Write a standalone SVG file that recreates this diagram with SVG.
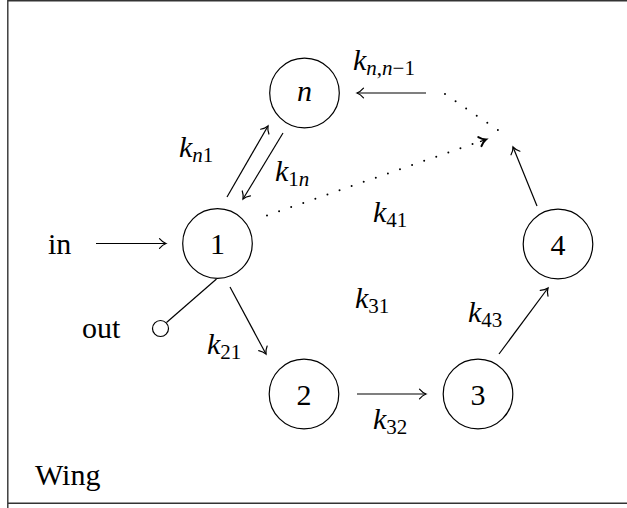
<svg xmlns="http://www.w3.org/2000/svg" width="627" height="508" viewBox="0 0 627 508">
  <style>
    .node circle { fill: none; stroke: #000; stroke-width: 1.2; }
    .it { font-style: italic; }
    .sub { font-size: 21px; font-style: normal; }
    .edge { stroke: #000; stroke-width: 1.2; fill: none; }
    .dots { stroke: #000; stroke-width: 2; fill: none; stroke-linecap: round; stroke-dasharray: 0 12.8; }
    .frame { stroke: #333; stroke-width: 1.4; fill: none; }
  </style>
  <defs>
    <!-- thin curved "to"-style arrow tip -->
    <marker id="to" markerUnits="userSpaceOnUse" orient="auto" refX="0" refY="0" markerWidth="14" markerHeight="14" viewBox="-8 -7 10 14" overflow="visible">
      <path d="M-6.5,-4.8 C-4.2,-2.1 -1.6,-0.6 0,0 C-1.6,0.6 -4.2,2.1 -6.5,4.8" fill="none" stroke="#000" stroke-width="1.2" stroke-linecap="round"/>
    </marker>
    <marker id="toBold" markerUnits="userSpaceOnUse" orient="auto" refX="0" refY="0" markerWidth="14" markerHeight="14" viewBox="-8 -7 10 14" overflow="visible">
      <path d="M-6.5,-4.8 C-4.2,-2.1 -1.6,-0.6 0,0 C-1.6,0.6 -4.2,2.1 -6.5,4.8" fill="none" stroke="#000" stroke-width="2" stroke-linecap="round"/>
    </marker>
  </defs>

  <!-- frame -->
  <path class="frame" d="M7.8,508 V0.8 H627 M7.8,503.3 H627"/>

  <!-- connectors -->
  <g id="connectors">
    <line class="edge" x1="96" y1="243.5" x2="166" y2="243.5" marker-end="url(#to)"/>
    <line class="edge" x1="216.5" y1="279" x2="166.5" y2="322.5"/>
    <circle class="edge" cx="160.5" cy="328.5" r="8"/>
    <line class="edge" x1="230" y1="287" x2="266" y2="354" marker-end="url(#to)"/>
    <line class="edge" x1="227" y1="197" x2="268" y2="126" marker-end="url(#to)"/>
    <line class="edge" x1="283" y1="133" x2="243" y2="199" marker-end="url(#to)"/>
    <line class="edge" x1="426" y1="93" x2="357" y2="93" marker-end="url(#to)"/>
    <line class="dots" x1="445" y1="94" x2="500" y2="131.5"/>
    <line class="dots" x1="267" y1="215.5" x2="474" y2="143.5"/>
    <line class="edge" x1="480" y1="141.6" x2="486" y2="139.5" stroke-width="0" marker-end="url(#toBold)"/>
    <line class="edge" x1="537" y1="206" x2="513" y2="147" marker-end="url(#to)"/>
    <line class="edge" x1="357" y1="394" x2="426" y2="394" marker-end="url(#to)"/>
    <line class="edge" x1="499" y1="354" x2="548" y2="288" marker-end="url(#to)"/>
  </g>

  <g font-family="Liberation Serif, Times New Roman, serif" font-size="30" fill="#000">
  <!-- nodes -->
  <g id="node-n" class="node">
    <circle cx="304.5" cy="93" r="34.8"/>
    <text class="it" x="304.5" y="101" text-anchor="middle">n</text>
  </g>
  <g id="node-1" class="node">
    <circle cx="217.5" cy="243.5" r="34.8"/>
    <text x="217.5" y="254" text-anchor="middle">1</text>
  </g>
  <g id="node-2" class="node">
    <circle cx="304" cy="394" r="34.8"/>
    <text x="304" y="404.5" text-anchor="middle">2</text>
  </g>
  <g id="node-3" class="node">
    <circle cx="478" cy="394" r="34.8"/>
    <text x="478" y="404.5" text-anchor="middle">3</text>
  </g>
  <g id="node-4" class="node">
    <circle cx="558" cy="244" r="34.8"/>
    <text x="558" y="254.5" text-anchor="middle">4</text>
  </g>

  <!-- labels -->
  <g id="labels">
    <text x="48" y="254">in</text>
    <text x="82" y="338">out</text>
    <text class="it" x="179" y="157">k<tspan class="sub" dy="5"><tspan class="it">n</tspan>1</tspan></text>
    <text class="it" x="275" y="181">k<tspan class="sub" dy="5">1<tspan class="it">n</tspan></tspan></text>
    <text class="it" x="353" y="70">k<tspan class="sub" dy="5"><tspan class="it">n</tspan>,<tspan class="it">n</tspan>−1</tspan></text>
    <text class="it" x="373" y="222">k<tspan class="sub" dy="5">41</tspan></text>
    <text class="it" x="355" y="308">k<tspan class="sub" dy="5">31</tspan></text>
    <text class="it" x="468" y="322">k<tspan class="sub" dy="5">43</tspan></text>
    <text class="it" x="207" y="354">k<tspan class="sub" dy="5">21</tspan></text>
    <text class="it" x="373" y="429">k<tspan class="sub" dy="5">32</tspan></text>
    <text x="35" y="485">Wing</text>
  </g>
  </g>
</svg>
